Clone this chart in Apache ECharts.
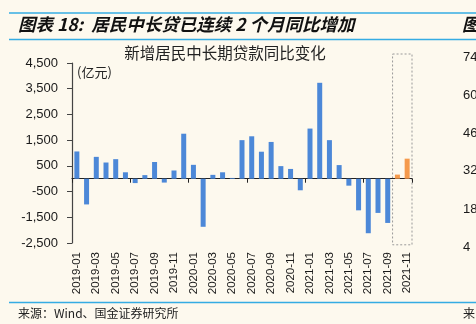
<!DOCTYPE html>
<html><head><meta charset="utf-8">
<script src="https://cdn.jsdelivr.net/npm/echarts@6/dist/echarts.min.js"></script>
<style>html,body{margin:0;padding:0;background:#fdf9ee;}#c{width:476px;height:324px;}</style>
</head><body><div id="c"></div>
<script>
const categories = ['2019-01','2019-02','2019-03','2019-04','2019-05','2019-06','2019-07','2019-08','2019-09','2019-10','2019-11','2019-12',
'2020-01','2020-02','2020-03','2020-04','2020-05','2020-06','2020-07','2020-08','2020-09','2020-10','2020-11','2020-12',
'2021-01','2021-02','2021-03','2021-04','2021-05','2021-06','2021-07','2021-08','2021-09','2021-10','2021-11'];
const values = [1060,-1000,850,630,760,250,-170,140,650,-150,320,1750,
540,-1870,150,250,30,1500,1650,1050,1430,490,380,-450,
1950,3730,1500,530,-270,-1230,-2120,-1330,-1720,160,780];
const highlighted = ['2021-10','2021-11'];
const yTicks = {min:-2500, max:4500, interval:1000};
const mainTitle = '图表 18:  居民中长贷已连续 2 个月同比增加';
const innerTitle = '新增居民中长期贷款同比变化';
const unitLabel = '(亿元)';
const sourceText = '来源：Wind、国金证券研究所';
const neighbourLabels = ['74','60','46','32','18','4'];

const BLUE = '#4c88d8', ORANGE = '#f59a4c', LINE = '#35ace3', TXT = '#1a1a1a';
const chart = echarts.init(document.getElementById('c'), null, {renderer:'canvas'});
const barData = categories.map((c,i)=>({value:values[i], itemStyle:{color: highlighted.includes(c)?ORANGE:BLUE}}));
const nbY = [57,95,133,170,209,247];

const option = {
  backgroundColor:'#fdf9ee',
  animation:false,
  grid:{left:72, right:64, top:63, bottom:81, containLabel:false},
  xAxis:[{
    type:'category', data:categories, position:'bottom',
    axisLine:{show:false, onZero:false}, axisTick:{show:false},
    axisLabel:{rotate:90, interval:1, fontSize:11.5, color:TXT, fontFamily:'Liberation Sans, Arial', margin:9}
  },{
    type:'category', data:categories, position:'bottom',
    axisLine:{show:true, onZero:true, lineStyle:{color:'#222', width:1.2}},
    axisTick:{show:true, length:4, lineStyle:{color:'#222'}},
    axisLabel:{show:false}
  }],
  yAxis:{
    type:'value', min:yTicks.min, max:yTicks.max, interval:yTicks.interval,
    axisLine:{show:true, lineStyle:{color:'#444', width:1.2}},
    axisTick:{show:true, length:5, lineStyle:{color:'#444'}},
    splitLine:{show:false},
    axisLabel:{fontSize:13, color:TXT, fontFamily:'Liberation Sans, Arial', margin:14,
      formatter:v=>v.toLocaleString('en-US')}
  },
  series:[{type:'bar', xAxisIndex:0, data:barData, barWidth:5}],
  graphic:[
    {type:'line', shape:{x1:9,y1:13,x2:476,y2:13}, style:{stroke:LINE, lineWidth:1.5}},
    {type:'line', shape:{x1:9,y1:39.5,x2:476,y2:39.5}, style:{stroke:LINE, lineWidth:1.5}},
    {type:'line', shape:{x1:9,y1:302.5,x2:476,y2:302.5}, style:{stroke:LINE, lineWidth:1.5}},
    {type:'text', x:18, y:24, style:{text:mainTitle, fontSize:17.5, fontWeight:'bold', fontStyle:'italic', fill:'#111', fontFamily:'Noto Sans CJK SC', verticalAlign:'middle'}},
    {type:'text', x:462, y:24, style:{text:'图', fontSize:17.5, fontWeight:'bold', fontStyle:'italic', fill:'#111', fontFamily:'Noto Sans CJK SC', verticalAlign:'middle'}},
    {type:'text', x:225, y:53, style:{text:innerTitle, fontSize:15.5, fill:'#222', fontFamily:'Noto Sans CJK SC', align:'center', verticalAlign:'middle'}},
    {type:'text', x:77, y:72, style:{text:unitLabel, fontSize:13, fill:'#222', fontFamily:'Noto Sans CJK SC', verticalAlign:'middle'}},
    {type:'text', x:18, y:313, style:{text:sourceText, fontSize:12, fill:'#222', fontFamily:'Noto Sans CJK SC', verticalAlign:'middle'}},
    {type:'text', x:463, y:313, style:{text:'来', fontSize:12, fill:'#222', fontFamily:'Noto Sans CJK SC', verticalAlign:'middle'}}
  ].concat(neighbourLabels.map((t,i)=>({type:'text', x:463, y:nbY[i], style:{text:t, fontSize:13, fill:TXT, fontFamily:'Liberation Sans, Arial', verticalAlign:'middle'}})))
};
chart.setOption(option);

// dashed highlight box around the highlighted months
const i0 = categories.indexOf(highlighted[0]), i1 = categories.indexOf(highlighted[highlighted.length-1]);
const p0 = chart.convertToPixel({xAxisIndex:0, yAxisIndex:0}, [i0, 4850]);
const p1 = chart.convertToPixel({xAxisIndex:0, yAxisIndex:0}, [i1, -2570]);
const band = chart.convertToPixel({xAxisIndex:0}, 1) - chart.convertToPixel({xAxisIndex:0}, 0);
chart.setOption({graphic: option.graphic.concat([{type:'rect', shape:{x:p0[0]-band/2, y:p0[1], width:(p1[0]-p0[0])+band, height:p1[1]-p0[1]},
  style:{fill:'none', stroke:'#999', lineWidth:1, lineDash:[2,2]}}])});
</script></body></html>
